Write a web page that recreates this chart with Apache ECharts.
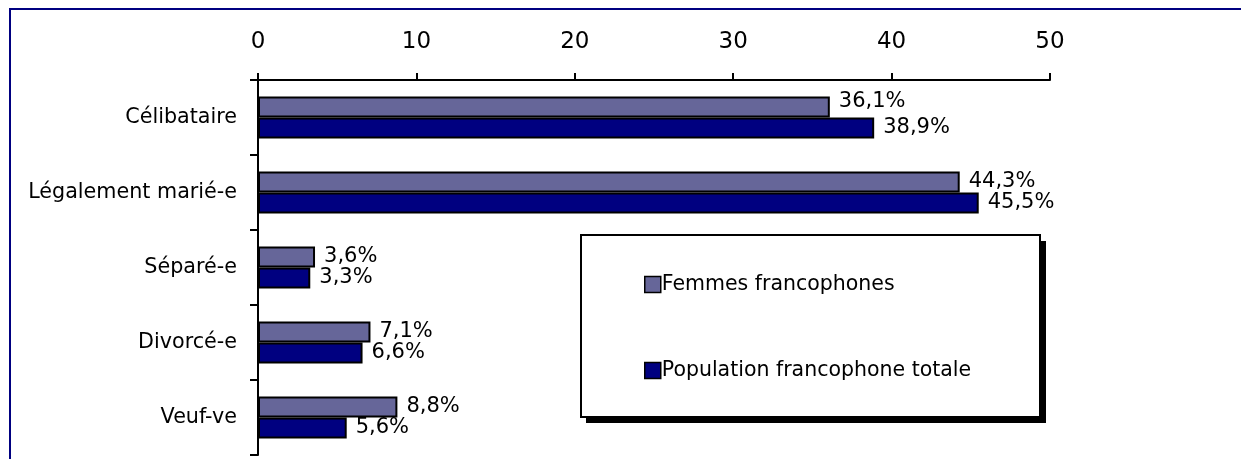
<!DOCTYPE html>
<html>
<head>
<meta charset="utf-8">
<script src="https://cdn.jsdelivr.net/npm/echarts@6/dist/echarts.min.js"></script>
<style>
html,body{margin:0;padding:0;background:#fff;}
#c{width:1241px;height:459px;}
</style>
</head>
<body>
<div id="c"></div>
<script>
const categories = ['Célibataire', 'Légalement marié-e', 'Séparé-e', 'Divorcé-e', 'Veuf-ve'];
const femmes = [36.1, 44.3, 3.6, 7.1, 8.8];
const population = [38.9, 45.5, 3.3, 6.6, 5.6];
const seriesNames = ['Femmes francophones', 'Population francophone totale'];
const xTicks = [0, 10, 20, 30, 40, 50];

const FONT = 'DejaVu Sans';
const fmt = p => p.value.toFixed(1).replace('.', ',') + '%';

const chart = echarts.init(document.getElementById('c'));
chart.setOption({
  animation: false,
  graphic: [
    {type: 'rect', z: -10, shape: {x: 10, y: 9, width: 1240, height: 460},
     style: {fill: '#fff', stroke: '#000080', lineWidth: 2}},
    {type: 'rect', z: 1, shape: {x: 586, y: 241, width: 460, height: 182},
     style: {fill: '#000', lineWidth: 0}},
    {type: 'rect', z: 2, shape: {x: 581, y: 235, width: 459, height: 182},
     style: {fill: '#fff', stroke: '#000', lineWidth: 2}}
  ],
  legend: {
    z: 5,
    orient: 'vertical',
    left: 639,
    top: 269,
    itemGap: 65,
    icon: 'rect',
    itemWidth: 16,
    itemHeight: 16,
    itemStyle: {borderColor: '#000', borderWidth: 1.5},
    textStyle: {fontFamily: FONT, fontSize: 20.5, color: '#000', padding: [0, 0, 0, -4]},
    data: seriesNames
  },
  grid: {left: 258, right: 191, top: 80, bottom: 4, containLabel: false},
  xAxis: {
    type: 'value',
    position: 'top',
    min: 0, max: 50, interval: 10,
    axisLine: {show: true, lineStyle: {color: '#000', width: 2}},
    axisTick: {show: true, length: 7, lineStyle: {color: '#000', width: 2}},
    splitLine: {show: false},
    axisLabel: {margin: 26, fontFamily: 'DejaVu Sans', fontSize: 23, color: '#000',
                formatter: v => xTicks.includes(v) ? String(v) : ''}
  },
  yAxis: {
    type: 'category',
    inverse: true,
    data: categories,
    axisLine: {show: true, lineStyle: {color: '#000', width: 2}},
    axisTick: {show: true, length: 8, lineStyle: {color: '#000', width: 2}},
    axisLabel: {margin: 21, fontFamily: FONT, fontSize: 20.7, color: '#000'}
  },
  series: [
    {
      name: seriesNames[0], type: 'bar',
      data: femmes.map((v, i) => i === 0 ? {value: v, label: {offset: [0, -5]}} : v),
      barCategoryGap: '44%', barGap: '0%',
      itemStyle: {color: '#666699', borderColor: '#000', borderWidth: 2},
      label: {show: true, position: 'right', distance: 9, offset: [0, 0],
              fontFamily: FONT, fontSize: 21, color: '#000', formatter: fmt}
    },
    {
      name: seriesNames[1], type: 'bar', data: population,
      barCategoryGap: '44%', barGap: '0%',
      itemStyle: {color: '#000080', borderColor: '#000', borderWidth: 2},
      label: {show: true, position: 'right', distance: 9, offset: [0, 0],
              fontFamily: FONT, fontSize: 21, color: '#000', formatter: fmt}
    }
  ]
});
</script>
</body>
</html>
